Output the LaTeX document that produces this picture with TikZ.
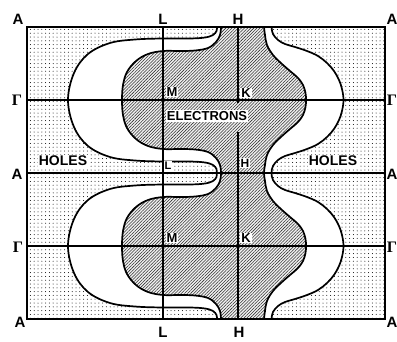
\documentclass[tikz,border=0pt]{standalone}
\usepackage{fontspec}
\setmainfont{Liberation Sans}
\newfontfamily\gfont{Liberation Serif}
\usetikzlibrary{patterns.meta}
\begin{document}
\def\Dc{plot[smooth,tension=0.6] coordinates {(217,27) (216.5,31) (213,35) (205,37.5) (190,38.5) (163,38.5) (135,39.5) (110,43) (88,54) (74,73) (68,100) (74,127) (88,146) (110,157) (135,160.5) (163,161.5) (190,161.5) (205,162.5) (213,165) (216.5,169) (217,173) (216.5,177) (213,181) (205,183.5) (190,184.5) (163,184.5) (135,185.5) (110,189) (88,200) (74,219) (68,246) (74,273) (88,292) (110,303) (135,306.5) (163,307.5) (190,307.5) (205,308.5) (213,311) (216.5,315) (217,319)}}
\def\Hc{plot[smooth,tension=0.6] coordinates {(221,27) (220,35) (216,42) (208,48) (195,50.5) (180,51) (163,51) (148,54) (136,61) (127,72) (123,85) (122,100) (123,115) (127,128) (136,139) (148,146) (163,149) (180,149) (195,149.5) (208,152) (216,158) (220,165) (221,173) (220,181) (216,188) (208,194) (195,196.5) (180,197) (163,197) (148,200) (136,207) (127,218) (123,231) (122,246) (123,261) (127,274) (136,285) (148,292) (163,295) (180,295) (195,295.5) (208,298) (216,304) (220,311) (221,319)}}
\def\Hpc{plot[smooth,tension=0.6] coordinates {(264,27) (265,35) (267,45) (273,55) (282,64) (290,71) (298,78) (303,85) (305.5,93) (306,100) (305.5,107) (303,115) (298,122) (290,129) (282,136) (273,145) (267,155) (265,165) (264,173) (265,181) (267,191) (273,201) (282,210) (290,217) (298,224) (303,231) (305.5,239) (306,246) (305.5,253) (303,261) (298,268) (290,275) (282,282) (273,291) (267,301) (265,311) (264,319)}}
\def\Dpc{plot[smooth,tension=0.6] coordinates {(271.5,27) (273,34) (278,40) (285,44) (295,47) (307,51) (318,56) (327,63) (334,71) (339,80) (342,89) (343.5,100) (342,111) (339,120) (334,129) (327,137) (318,144) (307,149) (295,153) (285,156) (278,160) (273,166) (271.5,173) (273,180) (278,186) (285,190) (295,193) (307,197) (318,202) (327,209) (334,217) (339,226) (342,235) (343.5,246) (342,257) (339,266) (334,275) (327,283) (318,290) (307,295) (295,299) (285,302) (278,306) (273,312) (271.5,319)}}
\begin{tikzpicture}[x=1pt,y=-1pt,
  curve/.style={line width=1.7pt, line join=round},
  gridline/.style={line width=1.1pt},
  dotreg/.style={fill=white, postaction={pattern={Dots[distance=3.8pt,radius=0.5pt]}, pattern color=black}},
  hatchreg/.style={fill=gray!12, postaction={pattern={Lines[angle=45,distance=2.2pt,line width=0.55pt]}, pattern color=black!80}},
  whitereg/.style={fill=white},
  lab/.style={font=\bfseries\fontsize{15}{15}\selectfont, inner sep=1pt},
  glab/.style={font=\gfont\bfseries\fontsize{16}{16}\selectfont, inner sep=1pt},
  ilab/.style={font=\bfseries\fontsize{13}{13}\selectfont, inner sep=1pt, fill=white},
  ]
\useasboundingbox (0,0) rectangle (397,341);
% regions
\path[dotreg] (27,27) rectangle (385,319);
\path[whitereg] \Dc -- (385,319) -- (385,27) -- cycle;
\path[hatchreg] \Hc -- (385,319) -- (385,27) -- cycle;
\path[whitereg] \Hpc -- (385,319) -- (385,27) -- cycle;
\path[dotreg] \Dpc -- (385,319) -- (385,27) -- cycle;
% grid lines
\draw[gridline] (27,100) -- (385,100);
\draw[gridline] (27,173) -- (385,173);
\draw[gridline] (27,246) -- (385,246);
\draw[gridline] (163,27) -- (163,319);
\draw[gridline] (238,27) -- (238,103);
\draw[gridline] (238,132) -- (238,319);
% curves
\draw[curve] \Dc;
\draw[curve] \Hc;
\draw[curve] \Hpc;
\draw[curve] \Dpc;
% frame
\draw[gridline] (27,27) rectangle (385,319);
% edge labels
\node[lab] (a1) at (18,19) {A};
\node[lab] (a2) at (17,174) {A};
\node[lab] (a3) at (20,322) {A};
\node[glab] (g1) at (17,100) {Γ};
\node[glab] (g2) at (18,247) {Γ};
\node[lab] (a4) at (392,19) {A};
\node[lab] (a5) at (392,174) {A};
\node[lab] (a6) at (392,322) {A};
\node[glab] (g3) at (392,100) {Γ};
\node[glab] (g4) at (392,247) {Γ};
\node[lab] (l1) at (163,19) {L};
\node[lab] (h1) at (238,19) {H};
\node[lab] (l2) at (163,332) {L};
\node[lab] (h2) at (239,332) {H};
% inner labels
\node[ilab] (m1) at (172,92) {M};
\node[ilab] (k1) at (246,93) {K};
\node[ilab] (el) at (207,116) {ELECTRONS};
\node[ilab, font=\bfseries\fontsize{11}{11}\selectfont] (l3) at (168,166) {L};
\node[ilab, font=\bfseries\fontsize{12}{12}\selectfont] (h3) at (245,163) {H};
\node[ilab, font=\bfseries\fontsize{14}{14}\selectfont] (ho1) at (63,161) {HOLES};
\node[ilab, font=\bfseries\fontsize{14}{14}\selectfont] (ho2) at (333,161) {HOLES};
\node[ilab] (m2) at (172,238) {M};
\node[ilab] (k2) at (246,238) {K};
\end{tikzpicture}
\end{document}
